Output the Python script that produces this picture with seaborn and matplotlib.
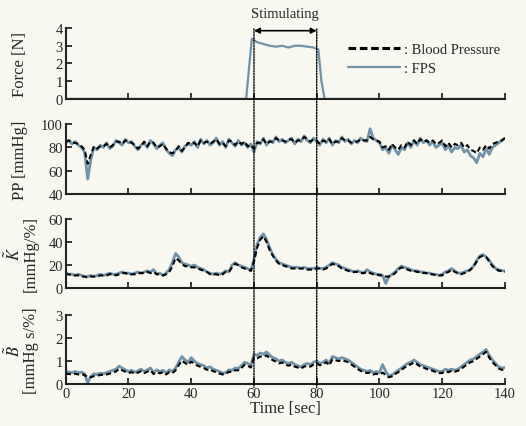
import matplotlib
matplotlib.use("Agg")
import matplotlib.pyplot as plt
import numpy as np
import seaborn as sns
from matplotlib.patches import ConnectionPatch

# ── data (1 s resolution) ────────────────────────────────────────────────────
time = np.arange(0, 141)

force_t = [0, 57.5, 59.3, 61, 63, 65, 67, 69, 71, 73, 75, 77, 79, 80.5, 81.5, 82.5, 140]
force_v = [0, 0, 3.4, 3.2, 3.1, 3.0, 2.95, 3.0, 2.9, 3.0, 3.0, 2.95, 2.9, 2.8, 1.0, 0, 0]

pp_fps = [84, 86, 83, 85, 82, 80, 76, 53, 70, 80,
          78, 82, 80, 84, 79, 81, 86, 84, 82, 87,
          84, 85, 81, 78, 82, 84, 80, 86, 83, 79,
          82, 84, 78, 75, 73, 78, 80, 76, 81, 83,
          82, 85, 80, 87, 83, 86, 82, 84, 88, 82,
          85, 80, 87, 84, 81, 86, 82, 84, 80, 83,
          76, 85, 83, 88, 82, 86, 84, 89, 85, 87,
          84, 86, 88, 83, 87, 85, 90, 86, 84, 88,
          85, 82, 87, 84, 88, 82, 86, 84, 89, 85,
          87, 83, 86, 84, 88, 86, 85, 96, 88, 86,
          84, 78, 80, 75, 82, 78, 74, 80, 78, 84,
          80, 86, 82, 88, 84, 86, 82, 85, 80, 82,
          84, 78, 82, 76, 80, 79, 82, 76, 78, 73,
          71, 67, 75, 72, 79, 74, 80, 82, 84, 86, 88]
pp_bp = [85, 86, 84, 84, 83, 81, 78, 66, 74, 81,
         79, 81, 81, 83, 80, 82, 85, 85, 83, 86,
         85, 84, 82, 79, 81, 85, 81, 85, 84, 80,
         81, 83, 79, 76, 75, 77, 81, 77, 80, 84,
         83, 84, 81, 86, 84, 85, 83, 85, 87, 83,
         84, 81, 86, 85, 82, 85, 83, 85, 81, 82,
         79, 84, 84, 87, 83, 85, 85, 88, 86, 86,
         85, 87, 87, 84, 86, 86, 89, 87, 85, 87,
         86, 83, 86, 85, 87, 83, 85, 85, 88, 86,
         86, 84, 85, 85, 87, 86, 86, 89, 87, 86,
         85, 80, 81, 78, 83, 80, 78, 82, 80, 85,
         82, 86, 83, 87, 85, 86, 84, 86, 83, 84,
         86, 81, 84, 80, 83, 82, 84, 80, 82, 78,
         77, 75, 80, 78, 82, 79, 83, 84, 85, 86, 88]

k_fps = [13, 12, 12, 11, 12, 11, 10, 10, 11, 10,
         11, 12, 11, 12, 13, 12, 12, 13, 14, 13,
         13, 12, 13, 14, 13, 14, 15, 14, 16, 12,
         13, 11, 13, 16, 22, 30, 27, 22, 21, 20,
         19, 20, 18, 17, 16, 14, 13, 12, 13, 12,
         13, 15, 14, 20, 22, 20, 19, 18, 17, 15,
         25, 38, 44, 47, 42, 35, 29, 25, 22, 21,
         20, 19, 18, 18, 18, 17, 18, 17, 17, 17,
         18, 17, 17, 18, 20, 22, 21, 20, 18, 17,
         16, 15, 14, 15, 14, 13, 16, 14, 13, 12,
         12, 11, 4, 10, 12, 14, 17, 19, 18, 17,
         16, 15, 15, 14, 14, 13, 13, 12, 12, 11,
         12, 14, 15, 17, 15, 13, 13, 14, 15, 16,
         19, 24, 28, 29, 27, 24, 20, 17, 16, 15, 15]
k_bp = [12, 12, 11, 11, 11, 10, 10, 9, 10, 10,
        10, 11, 11, 11, 12, 12, 11, 12, 13, 13,
        12, 12, 12, 13, 13, 13, 14, 13, 14, 12,
        12, 11, 12, 14, 19, 26, 24, 21, 19, 19,
        18, 18, 17, 16, 15, 14, 12, 12, 12, 11,
        12, 14, 14, 18, 21, 20, 18, 17, 16, 15,
        23, 35, 42, 45, 40, 33, 28, 24, 21, 20,
        19, 18, 17, 17, 17, 17, 17, 16, 16, 16,
        17, 17, 16, 17, 19, 21, 20, 19, 17, 16,
        15, 14, 14, 14, 13, 13, 14, 13, 12, 12,
        11, 11, 10, 10, 11, 13, 16, 18, 17, 16,
        15, 15, 14, 14, 13, 13, 12, 12, 11, 11,
        11, 13, 14, 16, 14, 13, 12, 13, 14, 16,
        19, 23, 27, 28, 27, 23, 19, 17, 15, 15, 14]

b_fps = [0.55, 0.52, 0.50, 0.55, 0.50, 0.52, 0.45, 0.05, 0.35, 0.45,
         0.42, 0.48, 0.45, 0.50, 0.55, 0.60, 0.65, 0.78, 0.70, 0.62,
         0.55, 0.60, 0.52, 0.58, 0.65, 0.55, 0.62, 0.70, 0.50, 0.62,
         0.55, 0.60, 0.48, 0.62, 0.55, 0.70, 0.95, 1.20, 1.05, 0.95,
         1.15, 1.00, 0.90, 0.85, 0.80, 0.70, 0.75, 0.65, 0.60, 0.55,
         0.48, 0.50, 0.62, 0.60, 0.70, 0.68, 0.80, 0.95, 0.90, 0.80,
         1.30, 1.25, 1.35, 1.30, 1.40, 1.25, 1.15, 1.10, 1.00, 1.05,
         0.95, 0.90, 0.95, 0.85, 0.80, 0.75, 0.85, 0.90, 0.85, 0.95,
         1.00, 0.90, 0.95, 1.05, 0.90, 1.20, 1.15, 1.10, 1.15, 1.10,
         1.05, 0.95, 0.85, 0.75, 0.65, 0.60, 0.55, 0.60, 0.50, 0.55,
         0.50, 0.85, 0.55, 0.35, 0.40, 0.50, 0.60, 0.70, 0.80, 0.90,
         0.95, 1.05, 0.95, 0.85, 0.80, 0.75, 0.70, 0.65, 0.60, 0.55,
         0.55, 0.65, 0.60, 0.65, 0.60, 0.65, 0.75, 0.85, 0.95, 1.05,
         1.10, 1.20, 1.30, 1.40, 1.50, 1.25, 1.05, 0.90, 0.75, 0.70, 0.72]
b_bp = [0.45, 0.44, 0.42, 0.45, 0.42, 0.43, 0.40, 0.30, 0.30, 0.35,
        0.36, 0.40, 0.40, 0.42, 0.46, 0.50, 0.55, 0.66, 0.60, 0.54,
        0.48, 0.52, 0.46, 0.50, 0.56, 0.48, 0.54, 0.60, 0.44, 0.52,
        0.47, 0.52, 0.42, 0.52, 0.48, 0.60, 0.82, 1.02, 0.92, 0.84,
        0.98, 0.88, 0.80, 0.75, 0.70, 0.62, 0.65, 0.56, 0.52, 0.46,
        0.42, 0.44, 0.54, 0.52, 0.60, 0.60, 0.70, 0.84, 0.80, 0.72,
        1.15, 1.12, 1.20, 1.18, 1.25, 1.12, 1.04, 0.98, 0.90, 0.94,
        0.85, 0.80, 0.85, 0.76, 0.72, 0.68, 0.76, 0.80, 0.76, 0.85,
        0.90, 0.82, 0.86, 0.95, 0.82, 1.08, 1.04, 1.00, 1.04, 1.00,
        0.95, 0.86, 0.76, 0.66, 0.58, 0.52, 0.48, 0.50, 0.42, 0.45,
        0.42, 0.50, 0.40, 0.30, 0.34, 0.44, 0.52, 0.62, 0.72, 0.82,
        0.86, 0.95, 0.86, 0.76, 0.72, 0.66, 0.62, 0.58, 0.52, 0.48,
        0.48, 0.56, 0.52, 0.58, 0.54, 0.58, 0.66, 0.76, 0.86, 0.95,
        1.00, 1.10, 1.20, 1.30, 1.40, 1.15, 0.95, 0.82, 0.68, 0.62, 0.64]

FPS_COLOR = "#7292a8"
BG = "#f8f8f0"

sns.set_theme(style="ticks")
plt.rcParams.update({
    "font.family": ["Liberation Serif", "DejaVu Serif"],
    "mathtext.fontset": "stix",
    "font.size": 10.5,
    "axes.linewidth": 1.5,
    "xtick.direction": "in",
    "ytick.direction": "in",
    "xtick.major.width": 1.3,
    "ytick.major.width": 1.3,
    "xtick.major.size": 4,
    "ytick.major.size": 4,
    "axes.edgecolor": "#222222",
})

fig = plt.figure(figsize=(5.26, 4.27), dpi=100, facecolor=BG)
left, width = 0.125, 0.835
boxes = [(0.766, 0.166), (0.543, 0.164), (0.323, 0.162), (0.098, 0.162)]
axes = [fig.add_axes([left, b, width, h]) for b, h in boxes]

panels = [
    (pp_bp, pp_fps, (40, 100), [40, 60, 80, 100], "PP [mmHg]", -0.085),
    (k_bp, k_fps, (0, 60), [0, 20, 40, 60], "$\\tilde{K}$\n[mmHg/%]", -0.062),
    (b_bp, b_fps, (0, 3), [0, 1, 2, 3], "$\\tilde{B}$\n[mmHg s/%]", -0.062),
]

ax0 = axes[0]
sns.lineplot(x=force_t, y=force_v, ax=ax0, color=FPS_COLOR, linewidth=1.6)
ax0.set_ylim(0, 4)
ax0.set_yticks([0, 1, 2, 3, 4])
ax0.set_ylabel("Force [N]")
ax0.yaxis.set_label_coords(-0.085, 0.5)

for ax, (bp, fps, ylim, yticks, label, lx) in zip(axes[1:], panels):
    sns.lineplot(x=time, y=fps, ax=ax, color=FPS_COLOR, linewidth=2.0)
    sns.lineplot(x=time, y=bp, ax=ax, color="black", linewidth=1.5,
                 linestyle=(0, (2.5, 1.5)))
    ax.set_ylim(*ylim)
    ax.set_yticks(yticks)
    ax.set_ylabel(label, linespacing=0.9)
    ax.yaxis.set_label_coords(lx, 0.5)

for ax in axes:
    ax.set_facecolor(BG)
    ax.set_xlim(0, 140)
    ax.set_xticks(range(0, 141, 20))
    sns.despine(ax=ax)
    ax.tick_params(labelsize=10.5, pad=2)
    if ax is not axes[-1]:
        ax.set_xticklabels([])
        ax.set_xlabel("")

axes[-1].set_xlabel("Time [sec]", labelpad=0)

# legend in the force panel
h_bp, = ax0.plot([], [], color="black", linewidth=2.2, linestyle=(0, (2.5, 1.2)))
h_fps, = ax0.plot([], [], color=FPS_COLOR, linewidth=1.6)
ax0.legend([h_bp, h_fps], [": Blood Pressure", ": FPS"], frameon=False,
           loc="upper right", bbox_to_anchor=(1.02, 0.97), handlelength=3.6,
           handletextpad=0.3, labelspacing=0.35, fontsize=10.5)

# stimulation window
ax0.annotate("", xy=(60, 3.85), xytext=(80, 3.85),
             arrowprops=dict(arrowstyle="<|-|>", color="black", lw=1.2,
                             mutation_scale=8, shrinkA=0, shrinkB=0),
             annotation_clip=False)
ax0.text(70, 4.45, "Stimulating", ha="center", va="bottom", fontsize=10.5)
for x in (60, 80):
    con = ConnectionPatch(xyA=(x, 3.95), coordsA=ax0.transData,
                          xyB=(x, -0.15), coordsB=axes[-1].transData,
                          color="black", linestyle=(0, (1, 1)), linewidth=1.0)
    fig.add_artist(con)

fig.savefig("out.png", dpi=100, facecolor=BG)
